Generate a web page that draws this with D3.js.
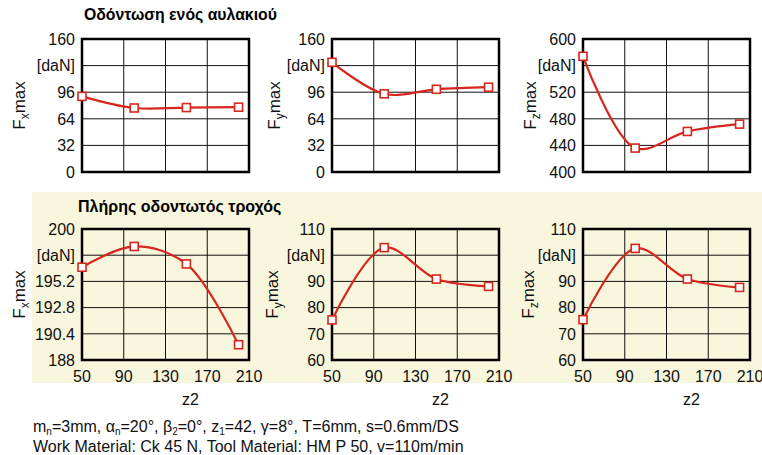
<!DOCTYPE html>
<html>
<head>
<meta charset="utf-8">
<script src="https://cdn.jsdelivr.net/npm/d3@7"></script>
<style>
  body { margin: 0; background: #fff; }
  svg { display: block; font-family: "Liberation Sans", Arial, sans-serif; }
</style>
</head>
<body>
<div id="chart"></div>
<script>
// z2 values where the forces were measured
const zValues = [50, 100, 150, 200];
const xTicks = [50, 90, 130, 170, 210];

// single tooth slot (top row)
const fxSingle = [91, 77, 77.5, 78];
const fySingle = [132, 94, 99.5, 102];
const fzSingle = [574, 436, 461, 472];

// complete gear (bottom row)
const fxFull = [196.5, 198.4, 196.8, 189.4];
const fyFull = [75.3, 102.9, 90.9, 88.1];
const fzFull = [75.4, 102.6, 90.9, 87.7];

// y ticks; the second highest one is labelled [daN]
const ticksSingleXY = [0, 32, 64, 96, 128, 160];
const ticksSingleZ = [400, 440, 480, 520, 560, 600];
const ticksFullX = [188, 190.4, 192.8, 195.2, 197.6, 200];
const ticksFullYZ = [60, 70, 80, 90, 100, 110];

const panels = [
  { row: 0, col: 0, sub: "x", values: fxSingle, ticks: ticksSingleXY },
  { row: 0, col: 1, sub: "y", values: fySingle, ticks: ticksSingleXY },
  { row: 0, col: 2, sub: "z", values: fzSingle, ticks: ticksSingleZ },
  { row: 1, col: 0, sub: "x", values: fxFull, ticks: ticksFullX },
  { row: 1, col: 1, sub: "y", values: fyFull, ticks: ticksFullYZ },
  { row: 1, col: 2, sub: "z", values: fzFull, ticks: ticksFullYZ }
];

const width = 762, height = 455;
const red = "#d7261e";
const lefts = [82, 332, 583], plotW = 167;
const rows = [{ top: 39, bottom: 172 }, { top: 229, bottom: 360 }];
const labelOffset = [[63, 58, 53], [63, 60, 55]];

const svg = d3.select("#chart").append("svg")
  .attr("width", width).attr("height", height);

// yellow background behind the complete gear row
svg.append("rect").attr("x", 32).attr("y", 192).attr("width", width - 32).attr("height", 191)
  .attr("fill", "#f8f7de");

svg.append("text").attr("x", 84).attr("y", 20)
  .attr("font-weight", "bold").style("font-size", "15.8px")
  .text("Οδόντωση ενός αυλακιού");
svg.append("text").attr("x", 78).attr("y", 212)
  .attr("font-weight", "bold").style("font-size", "16px")
  .text("Πλήρης οδοντωτός τροχός");

panels.forEach(p => {
  const left = lefts[p.col], right = left + plotW;
  const { top, bottom } = rows[p.row];
  const x = d3.scaleLinear().domain([50, 210]).range([left, right]);
  const y = d3.scaleLinear().domain([p.ticks[0], p.ticks[p.ticks.length - 1]]).range([bottom, top]);
  const g = svg.append("g");

  // grid
  g.selectAll(".vg").data(xTicks).enter().append("line")
    .attr("x1", d => x(d)).attr("x2", d => x(d)).attr("y1", top).attr("y2", bottom)
    .attr("stroke", "#111").attr("stroke-width", 1);
  g.selectAll(".hg").data(p.ticks).enter().append("line")
    .attr("x1", left).attr("x2", right).attr("y1", d => y(d)).attr("y2", d => y(d))
    .attr("stroke", "#111").attr("stroke-width", 1);
  g.append("rect").attr("x", left).attr("y", top).attr("width", plotW).attr("height", bottom - top)
    .attr("fill", "none").attr("stroke", "#000").attr("stroke-width", 2.5);

  // y tick labels
  g.selectAll(".yl").data(p.ticks).enter().append("text")
    .attr("x", left - 7).attr("y", d => y(d)).attr("dy", "0.36em")
    .attr("text-anchor", "end").style("font-size", "16px").attr("fill", "#111")
    .text((d, i) => i === p.ticks.length - 2 ? "[daN]" : String(d));

  // x tick labels (bottom row only)
  if (p.row === 1) {
    g.selectAll(".xl").data(xTicks).enter().append("text")
      .attr("x", d => x(d)).attr("y", bottom + 22)
      .attr("text-anchor", "middle").style("font-size", "16px").attr("fill", "#111")
      .text(d => d);
    svg.append("text").attr("x", (left + right) / 2 + 25).attr("y", bottom + 45)
      .attr("text-anchor", "middle").style("font-size", "16px").attr("fill", "#111")
      .text("z2");
  }

  // y label F_? max
  const lx = left - labelOffset[p.row][p.col], ly = (top + bottom) / 2;
  const lab = g.append("text").attr("transform", `translate(${lx},${ly}) rotate(-90)`)
    .attr("text-anchor", "middle").attr("dy", "0.35em").style("font-size", "17px").attr("fill", "#111");
  lab.append("tspan").text("F");
  lab.append("tspan").attr("dy", 4).style("font-size", "12px").text(p.sub);
  lab.append("tspan").attr("dy", -4).text("max");

  // curve and markers
  const pts = zValues.map((z, i) => [z, p.values[i]]);
  g.append("path").datum(pts)
    .attr("fill", "none").attr("stroke", red).attr("stroke-width", 2.2)
    .attr("d", d3.line().x(d => x(d[0])).y(d => y(d[1])).curve(d3.curveCatmullRom));
  g.selectAll(".mk").data(pts).enter().append("rect")
    .attr("x", d => x(d[0]) - 4).attr("y", d => y(d[1]) - 4)
    .attr("width", 8).attr("height", 8)
    .attr("fill", "#fff").attr("stroke", red).attr("stroke-width", 1.6);
});

// footnote with the cutting conditions
const foot = svg.append("g").style("font-size", "16px").attr("fill", "#111");
const l1 = foot.append("text").attr("x", 33).attr("y", 432);
[["m", 0], ["n", 1], ["=3mm, α", 0], ["n", 1], ["=20°, β", 0], ["2", 1], ["=0°, z", 0], ["1", 1],
 ["=42, γ=8°, T=6mm, s=0.6mm/DS", 0]].forEach(([t, s], i, arr) => {
  const prev = i > 0 ? arr[i - 1][1] : 0;
  l1.append("tspan").attr("dy", s === prev ? 0 : (s ? 3 : -3))
    .style("font-size", s ? "10px" : "16px").text(t);
});
foot.append("text").attr("x", 33).attr("y", 452)
  .text("Work Material: Ck 45 N, Tool Material: HM P 50, v=110m/min");
</script>
</body>
</html>
